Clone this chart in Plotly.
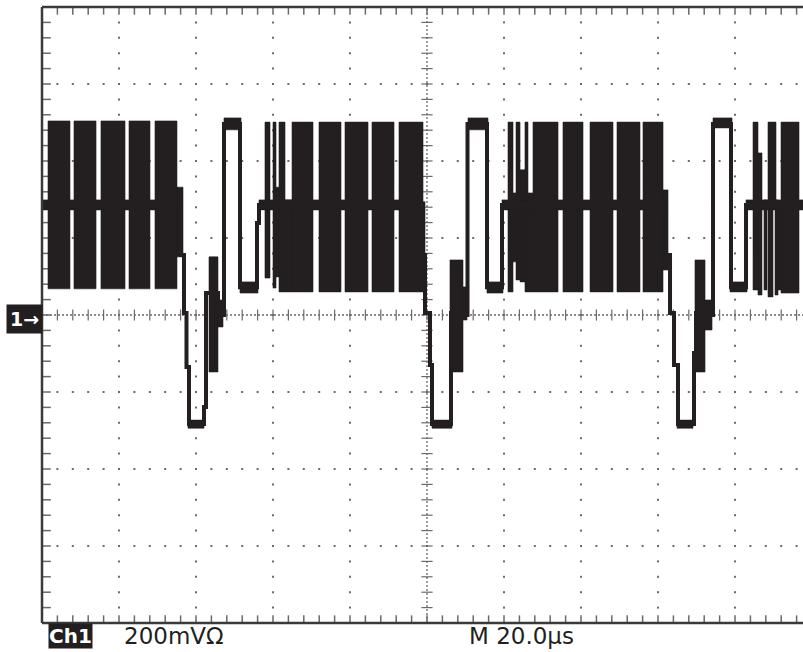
import numpy as np
import plotly.graph_objects as go

# ---------------- scope settings ----------------
TIME_PER_DIV_US = 20.0      # M 20.0us
VOLT_PER_DIV_MV = 200.0     # 200mV
X_VIEW_MAX = 197.66         # visible part of the 10-division screen (µs)
Y_MIN, Y_MAX = -800.0, 800.0

# ---------------- waveform: step trace (µs, mV) ----------------
step_t = [0.0, 36.10, 36.88, 37.53, 38.18, 42.08, 42.60, 45.71, 47.27, 51.43, 55.84, 56.36,
          98.70, 99.48, 100.78, 101.30, 106.23, 109.35, 110.52, 115.58, 119.48,
          162.08, 163.12, 164.16, 165.19, 169.35, 169.87, 172.21, 174.29, 178.96, 182.86, 197.66]
step_v = [286, 156, 5, -135, -283, -239, 57, 0, 496, 72, 239, 286,
          156, 5, -130, -283, 5, 0, 496, 72, 286,
          156, 5, -130, -283, -99, 5, 0, 496, 72, 286, 286]

# ---------------- waveform: dense (persisted) regions (µs, mV) ----------------
blk_t0 = [1.56, 8.31, 15.32, 22.60, 29.35, 35.06, 0.0,
          43.38, 45.71, 37.92, 47.27, 51.43,
          57.92, 60.00, 60.78, 61.56, 63.12, 64.94, 71.95, 78.70, 85.71, 92.73, 98.18, 56.36,
          105.97, 109.09, 101.30, 110.65, 115.58,
          121.04, 122.34, 123.12, 124.16, 125.45, 126.23, 127.53, 135.32, 142.34, 149.35, 156.10, 161.30, 119.48,
          169.61, 171.69, 164.94, 174.29, 178.70,
          184.68, 185.97, 187.53, 188.57, 189.87, 190.39, 191.17, 191.95, 182.86]
blk_t1 = [7.27, 14.03, 21.56, 28.05, 35.06, 36.62, 35.84,
          45.71, 47.01, 42.08, 51.69, 56.10,
          59.22, 60.78, 61.56, 63.12, 64.94, 70.39, 77.66, 84.68, 91.43, 98.96, 99.48, 98.70,
          109.35, 110.39, 106.49, 115.84, 119.74,
          122.34, 123.38, 124.16, 125.45, 126.23, 127.53, 134.03, 140.52, 148.31, 155.32, 161.30, 162.60, 161.82,
          172.21, 174.03, 169.09, 179.22, 183.12,
          185.97, 187.01, 188.31, 189.87, 190.65, 191.17, 192.21, 196.62, 197.66]
blk_lo = [68, 68, 68, 68, 68, 151, 273,
          -148, -31, -294, 481, 57,
          96, 70, 99, 60, 60, 60, 60, 60, 60, 60, 156, 273,
          -148, -13, -294, 481, 57,
          60, 138, 91, 86, 60, 60, 60, 60, 60, 60, 60, 117, 273,
          -148, -39, -294, 486, 60,
          65, 52, 65, 47, 299, 52, 65, 57, 273]
blk_hi = [504, 504, 504, 504, 504, 332, 299,
          151, 39, -273, 512, 86,
          501, 501, 332, 501, 299, 501, 501, 501, 501, 501, 294, 299,
          143, 73, -273, 512, 86,
          501, 317, 501, 377, 501, 317, 501, 501, 501, 501, 501, 325, 299,
          143, 39, -273, 512, 86,
          501, 421, 299, 501, 501, 299, 273, 501, 299]

# ---------------- screen graticule ----------------
major_t = np.arange(0, 10 * TIME_PER_DIV_US + 1e-9, TIME_PER_DIV_US)
major_v = np.arange(Y_MIN, Y_MAX + 1e-9, VOLT_PER_DIV_MV)
minor_t = np.arange(0, 10 * TIME_PER_DIV_US + 1e-9, TIME_PER_DIV_US / 5)
minor_v = np.arange(Y_MIN, Y_MAX + 1e-9, VOLT_PER_DIV_MV / 5)
center_t = 5 * TIME_PER_DIV_US
center_v = 0.0

INK = '#231f20'
GRID = '#6a6a6a'

fig = go.Figure()

# dotted grid lines (dots every minor division)
gx, gy = [], []
for t in major_t[1:-1]:
    if abs(t - center_t) < 1e-6:
        continue
    for v in minor_v[1:-1]:
        gx.append(t); gy.append(v)
for v in major_v[1:-1]:
    if abs(v - center_v) < 1e-6:
        continue
    for t in minor_t[1:]:
        if t < X_VIEW_MAX:
            gx.append(t); gy.append(v)
fig.add_trace(go.Scatter(x=gx, y=gy, mode='markers', hoverinfo='skip',
                         marker=dict(symbol='square', size=2, color=GRID, line=dict(width=0))))

# center cross-hair lines (dense dots)
fig.add_trace(go.Scatter(x=[0, X_VIEW_MAX], y=[center_v, center_v], mode='lines', hoverinfo='skip',
                         line=dict(color=GRID, width=1.3, dash='2px,2px')))
fig.add_trace(go.Scatter(x=[center_t, center_t], y=[Y_MIN, Y_MAX], mode='lines', hoverinfo='skip',
                         line=dict(color=GRID, width=1.3, dash='2px,2px')))
# tick marks on the cross-hair
ct = [t for t in minor_t if t < X_VIEW_MAX]
fig.add_trace(go.Scatter(x=ct, y=[center_v] * len(ct),
                         mode='markers', hoverinfo='skip',
                         marker=dict(symbol='line-ns', size=8, line=dict(width=1.2, color=GRID))))
fig.add_trace(go.Scatter(x=[center_t] * len(minor_v), y=list(minor_v), mode='markers', hoverinfo='skip',
                         marker=dict(symbol='line-ew', size=8, line=dict(width=1.2, color=GRID))))

# border ticks
bt = [t for t in minor_t[1:] if t < X_VIEW_MAX]
fig.add_trace(go.Scatter(x=bt + bt, y=[Y_MAX - 9] * len(bt) + [Y_MIN + 9] * len(bt),
                         mode='markers', hoverinfo='skip',
                         marker=dict(symbol='line-ns', size=6, line=dict(width=1.5, color=GRID))))
bv = list(minor_v[1:-1])
fig.add_trace(go.Scatter(x=[1.2] * len(bv), y=bv, mode='markers', hoverinfo='skip',
                         marker=dict(symbol='line-ew', size=6, line=dict(width=1.5, color=GRID))))

# dense regions of the waveform
px, py = [], []
for a, b, lo, hi in zip(blk_t0, blk_t1, blk_lo, blk_hi):
    px += [a, b, b, a, a, None]
    py += [lo, lo, hi, hi, lo, None]
fig.add_trace(go.Scatter(x=px, y=py, mode='lines', fill='toself', fillcolor=INK,
                         line=dict(color=INK, width=0.6), hoverinfo='skip'))

# step trace
fig.add_trace(go.Scatter(x=step_t, y=step_v, mode='lines', line_shape='hv',
                         line=dict(color=INK, width=4), hoverinfo='skip'))

# frame (left, top, bottom)
frame = dict(color='#3a3a3a', width=2.5)
fig.add_shape(type='line', xref='paper', yref='paper', x0=0, x1=0, y0=0, y1=1, line=frame)
fig.add_shape(type='line', xref='paper', yref='paper', x0=0, x1=1, y0=1, y1=1, line=frame)
fig.add_shape(type='line', xref='paper', yref='paper', x0=0, x1=1, y0=0, y1=0, line=frame)

PW, PH = 761.0, 616.0
font = 'DejaVu Sans, Arial, sans-serif'
fig.add_annotation(xref='paper', yref='paper', x=(70.5 - 42) / PW, y=(623 - 636) / PH,
                   text='<b>Ch1</b>', showarrow=False, xanchor='center', yanchor='middle',
                   font=dict(family=font, size=20, color='white'), bgcolor=INK, borderpad=0)
fig.add_annotation(xref='paper', yref='paper', x=(122 - 42) / PW, y=(623 - 636) / PH,
                   text='200mV\u03a9', showarrow=False, xanchor='left', yanchor='middle',
                   font=dict(family=font, size=23, color=INK))
fig.add_annotation(xref='paper', yref='paper', x=(467 - 42) / PW, y=(623 - 636) / PH,
                   text='M 20.0\u00b5s', showarrow=False, xanchor='left', yanchor='middle',
                   font=dict(family=font, size=23, color=INK))
fig.add_annotation(xref='paper', yref='paper', x=(24.5 - 42) / PW, y=(623 - 319) / PH,
                   text='<b>1\u2192</b>', showarrow=False, xanchor='center', yanchor='middle',
                   font=dict(family=font, size=19, color='white'), bgcolor=INK, borderpad=3)

fig.update_layout(width=803, height=652,
                  margin=dict(l=42, r=0, t=7, b=29, pad=0, autoexpand=False),
                  paper_bgcolor='white', plot_bgcolor='white', showlegend=False,
                  xaxis=dict(range=[0, X_VIEW_MAX], visible=False, fixedrange=True),
                  yaxis=dict(range=[Y_MIN, Y_MAX], visible=False, fixedrange=True))

fig.write_html('out.html', config={'displayModeBar': False},
               post_script="document.body.style.margin='0';document.body.style.padding='0';"
                           "document.body.style.overflow='hidden';")
